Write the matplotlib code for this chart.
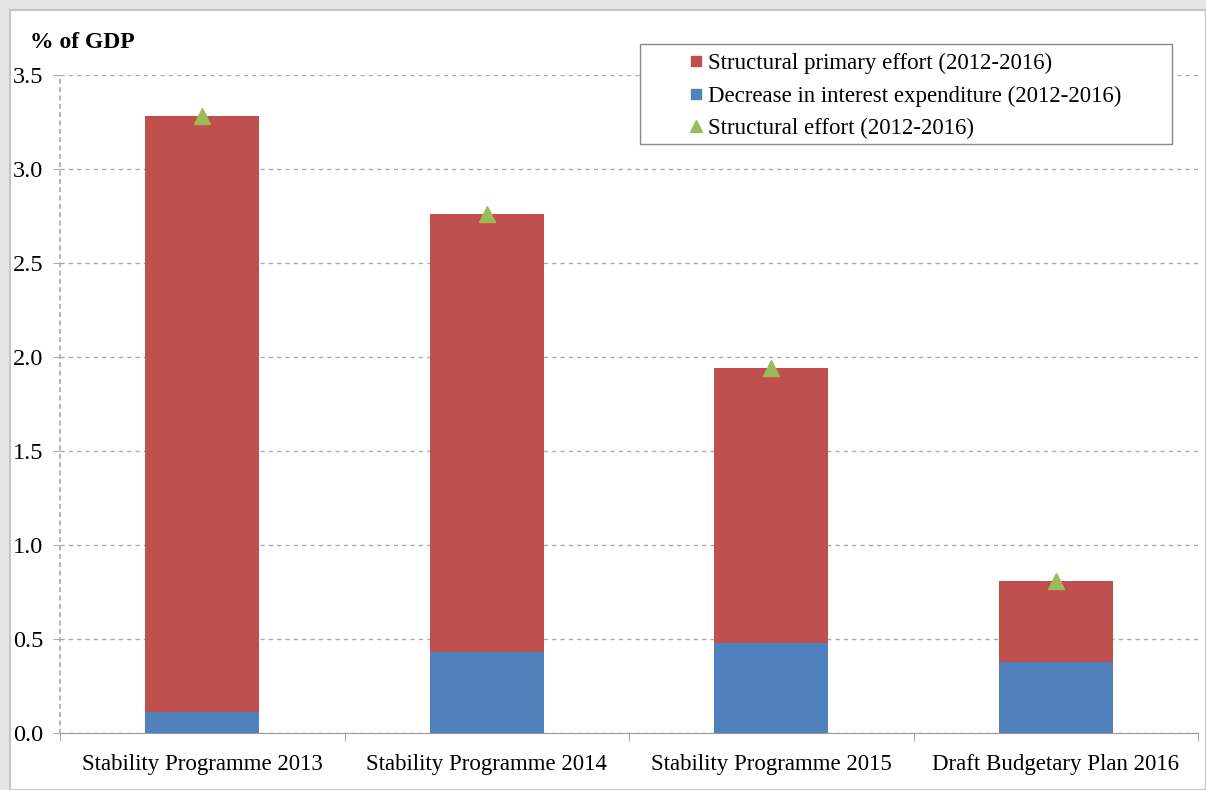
import matplotlib.pyplot as plt
from matplotlib.lines import Line2D
from matplotlib.patches import Rectangle
import numpy as np

plt.rcParams['font.family'] = ['Liberation Serif', 'DejaVu Serif']

# Data
categories = ['Stability Programme 2013', 'Stability Programme 2014',
              'Stability Programme 2015', 'Draft Budgetary Plan 2016']
interest = [0.11, 0.43, 0.48, 0.38]
primary = [3.17, 2.33, 1.46, 0.43]
structural = [3.28, 2.76, 1.94, 0.81]

red = '#C0504D'
blue = '#4F81BD'
green = '#9BBB59'

W, H = 1206, 790
fig = plt.figure(figsize=(W / 100, H / 100), dpi=100, facecolor='#e6e6e6')
# white panel inside the grey frame
fig.patches.append(Rectangle((10 / W, 0), 1 - 10 / W, 1 - 10 / H,
                             transform=fig.transFigure, facecolor='white',
                             edgecolor='#c4c4c4', linewidth=1.5, zorder=-5))

ax = fig.add_axes([60 / W, 57 / H, 1138 / W, 658 / H])
ax.set_zorder(1)
ax.set_facecolor('none')

x = np.arange(len(categories))
ax.bar(x, interest, width=0.4, color=blue, zorder=3)
ax.bar(x, primary, width=0.4, bottom=interest, color=red, zorder=3)
ax.plot(x, structural, linestyle='none', marker='^', markersize=11,
        color=green, zorder=4)

ax.set_xlim(-0.5, len(categories) - 0.5)
ax.set_ylim(0, 3.5)
yt = np.arange(0, 3.51, 0.5)
ax.set_yticks(yt)
ax.set_yticklabels([f'{v:.1f}' for v in yt], fontsize=17.5)
ax.yaxis.grid(True, linestyle=(0, (3, 3)), color='#aaaaaa', linewidth=1, zorder=0)
ax.set_axisbelow(True)

ax.set_xticks(x)
ax.set_xticklabels(categories, fontsize=16.5)
ax.tick_params(axis='x', length=0, pad=15)
ax.set_xticks(np.arange(-0.5, len(categories), 1.0), minor=True)
ax.tick_params(axis='x', which='minor', length=6, color='#999999', direction='out')
ax.tick_params(axis='y', length=5, color='#aaaaaa', pad=7)

for s in ['top', 'right']:
    ax.spines[s].set_visible(False)
ax.spines['bottom'].set_color('#999999')
ax.spines['left'].set_color('#aaaaaa')
ax.spines['left'].set_linestyle((0, (2, 3)))
ax.spines['left'].set_linewidth(1.2)

fig.text(30 / W, 1 - 43 / H, '% of GDP', fontsize=17, fontweight='bold',
         va='center', ha='left')

# legend frame drawn separately (Excel-style wide box)
fig.patches.append(Rectangle((640 / W, 1 - 144 / H), 532 / W, 100 / H,
                             transform=fig.transFigure, facecolor='white',
                             edgecolor='#888888', linewidth=1, zorder=2))

handles = [
    Line2D([], [], linestyle='none', marker='s', markersize=7, color=red),
    Line2D([], [], linestyle='none', marker='s', markersize=7, color=blue),
    Line2D([], [], linestyle='none', marker='^', markersize=9, color=green),
]
labels = ['Structural primary effort (2012-2016)',
          'Decrease in interest expenditure (2012-2016)',
          'Structural effort (2012-2016)']
leg = fig.legend(handles, labels, loc='upper left',
                 bbox_to_anchor=(689 / W, 1 - 53 / H), fontsize=16.5,
                 frameon=False, handlelength=0.6, handletextpad=0.25,
                 borderpad=0, labelspacing=0.5, borderaxespad=0)
leg.set_zorder(6)

fig.savefig('out.png', dpi=100, facecolor=fig.get_facecolor())
